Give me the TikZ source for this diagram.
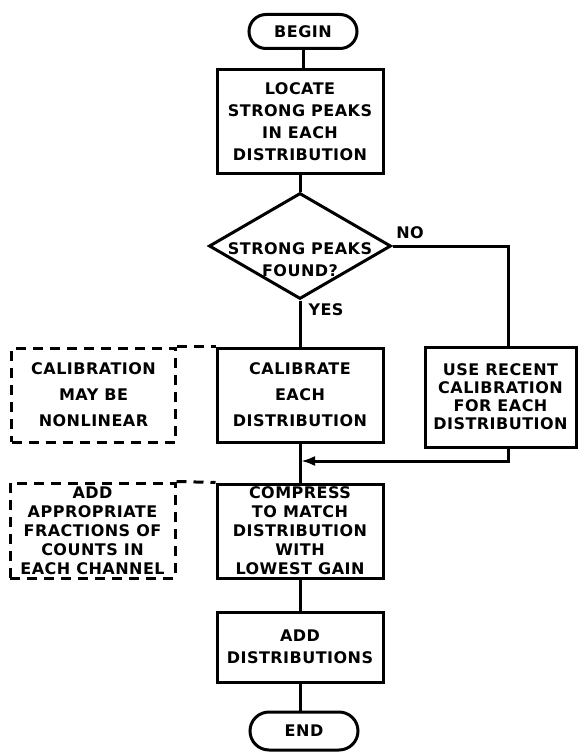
\documentclass[tikz,border=0pt]{standalone}
\usepackage{fontspec}
\setmainfont{DejaVu Sans}[LetterSpace=3]
\usepackage{tikz}
\usetikzlibrary{shapes.geometric,shapes.misc,arrows.meta}

\begin{document}
\begin{tikzpicture}[x=1pt, y=-1pt, line width=3pt,
    every node/.style={font=\bfseries\fontsize{16}{22}\selectfont, align=center, inner sep=0},
    terminal/.style={draw, rounded rectangle, minimum width=108, minimum height=34},
    flowbox/.style={draw, rectangle, minimum width=166, minimum height=94},
    notebox/.style={flowbox, dashed, dash pattern=on 10pt off 7pt, minimum width=164},
    decision/.style={draw, diamond, minimum width=182, minimum height=106},
    tight/.style={font=\bfseries\fontsize{16}{18}\selectfont},
    loose/.style={font=\bfseries\fontsize{16}{26}\selectfont},
    flow/.style={-{Latex[length=14pt,width=10pt]}}]
\useasboundingbox (0,0) rectangle (578,752);

% main column
\node [terminal] (begin) at (303,31.5) {BEGIN};
\node [flowbox, minimum height=103] (locate) at (300,121.5) {LOCATE\\STRONG PEAKS\\IN EACH\\DISTRIBUTION};
\node [decision] (found) at (300,246) {};
\node (foundtxt) at (300,260) {STRONG PEAKS\\FOUND?};
\node [flowbox, loose] (calib) at (300,395) {CALIBRATE\\EACH\\DISTRIBUTION};
\node [flowbox, font=\bfseries\fontsize{16}{19}\selectfont] (compress) at (300,531) {COMPRESS\\TO MATCH\\DISTRIBUTION\\WITH\\LOWEST GAIN};
\node [flowbox, minimum height=70] (adddist) at (300,647) {ADD\\DISTRIBUTIONS};
\node [terminal, minimum height=38] (end) at (304,731) {END};

% side boxes
\node [flowbox, tight, minimum width=151, minimum height=100] (recent) at (500.5,397) {USE RECENT\\CALIBRATION\\FOR EACH\\DISTRIBUTION};
\node [notebox, loose] (nonlin) at (93.5,395) {CALIBRATION\\MAY BE\\NONLINEAR};
\node [notebox, font=\bfseries\fontsize{16}{19}\selectfont, minimum width=165, minimum height=95] (fractions) at (92.5,530.5) {ADD\\APPROPRIATE\\FRACTIONS OF\\COUNTS IN\\EACH CHANNEL};

\node (yes) at (326,310) {YES};
\node (no) at (410,233) {NO};

\coordinate (noturn) at (508,246);
\coordinate (merge) at (301,461);

% connectors
\draw [-] (begin.south) -- (begin.south |- locate.north);
\draw [-] (locate.south) -- (found.north);
\draw [-] (found.south) -- (calib.north);
\draw [-] (found.east) -- (noturn) -- (noturn |- recent.north);
\draw [-] (calib.south) -- (compress.north);
\draw [flow] (noturn |- recent.south) |- (merge);
\draw [-] (compress.south) -- (adddist.north);
\draw [-] (adddist.south) -- (end.north -| adddist.south);
\draw [-, dashed, dash pattern=on 10pt off 7pt] (nonlin.north east) -- (calib.north west);
\draw [-, dashed, dash pattern=on 10pt off 7pt] (fractions.north east) -- (compress.north west);

\end{tikzpicture}
\end{document}
